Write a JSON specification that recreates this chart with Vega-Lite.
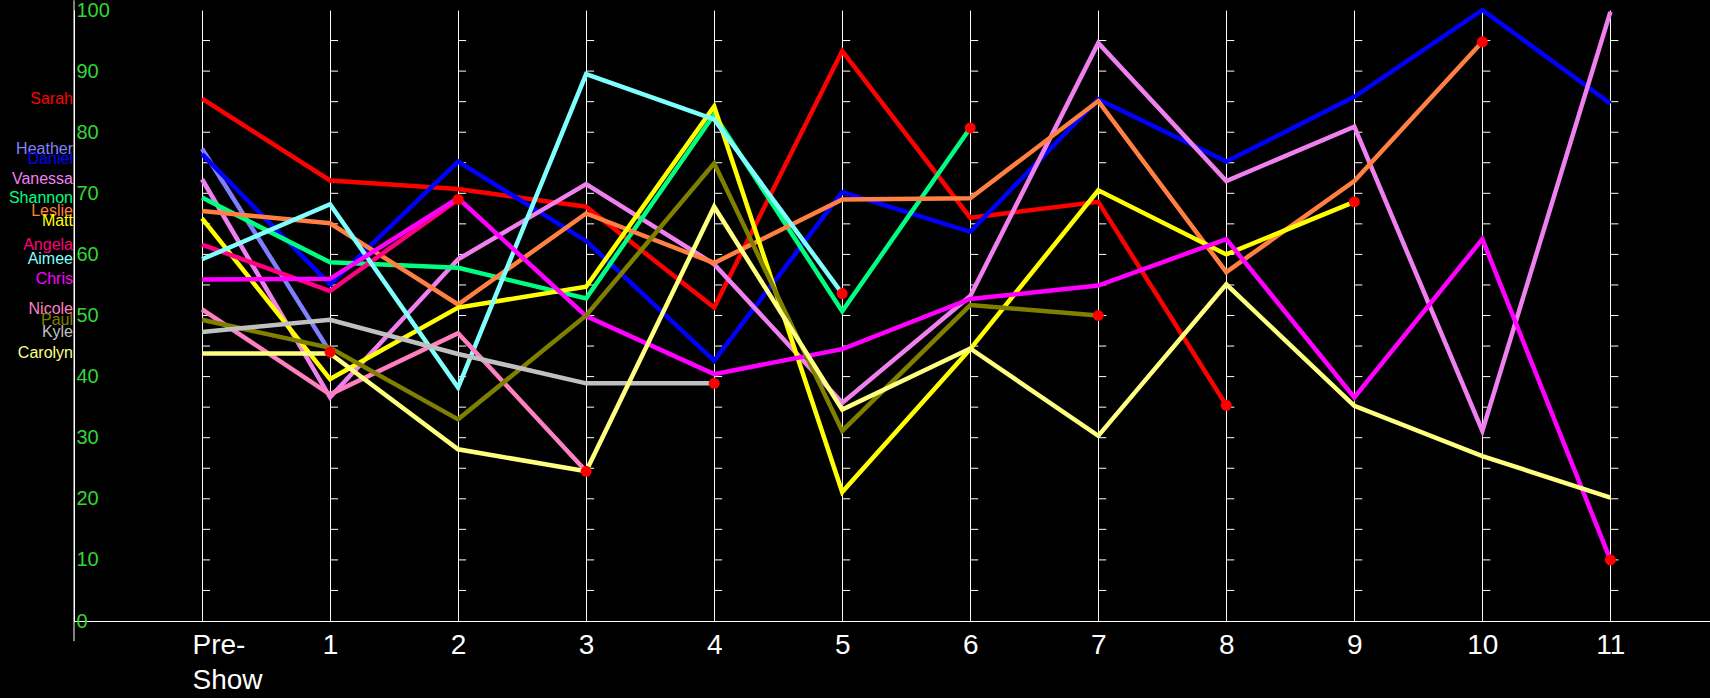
{
  "$schema": "https://vega.github.io/schema/vega-lite/v6.json",
  "autosize": {"type": "none"},
  "padding": {"left": 74, "top": 10, "right": 0, "bottom": 77},
  "width": 1636,
  "height": 611,
  "background": "black",
  "config": {"view": {"stroke": null}},
  "datasets": {
    "scores": [
      {"name": "Sarah", "ep": 0, "score": 85.5},
      {"name": "Sarah", "ep": 1, "score": 72.1},
      {"name": "Sarah", "ep": 2, "score": 70.7},
      {"name": "Sarah", "ep": 3, "score": 67.8},
      {"name": "Sarah", "ep": 4, "score": 51.3},
      {"name": "Sarah", "ep": 5, "score": 93.3},
      {"name": "Sarah", "ep": 6, "score": 66.0},
      {"name": "Sarah", "ep": 7, "score": 68.6},
      {"name": "Sarah", "ep": 8, "score": 35.3, "out": 1},
      {"name": "Heather", "ep": 0, "score": 77.3},
      {"name": "Heather", "ep": 1, "score": 44.0, "out": 1},
      {"name": "Daniel", "ep": 0, "score": 76.4},
      {"name": "Daniel", "ep": 1, "score": 55.1},
      {"name": "Daniel", "ep": 2, "score": 75.2},
      {"name": "Daniel", "ep": 3, "score": 62.2},
      {"name": "Daniel", "ep": 4, "score": 42.6},
      {"name": "Daniel", "ep": 5, "score": 70.2},
      {"name": "Daniel", "ep": 6, "score": 63.7},
      {"name": "Daniel", "ep": 7, "score": 85.4},
      {"name": "Daniel", "ep": 8, "score": 75.2},
      {"name": "Daniel", "ep": 9, "score": 85.8},
      {"name": "Daniel", "ep": 10, "score": 100},
      {"name": "Daniel", "ep": 11, "score": 84.7},
      {"name": "Vanessa", "ep": 0, "score": 72.3},
      {"name": "Vanessa", "ep": 1, "score": 36.6},
      {"name": "Vanessa", "ep": 2, "score": 59.2},
      {"name": "Vanessa", "ep": 3, "score": 71.5},
      {"name": "Vanessa", "ep": 4, "score": 58.4},
      {"name": "Vanessa", "ep": 5, "score": 35.7},
      {"name": "Vanessa", "ep": 6, "score": 53.2},
      {"name": "Vanessa", "ep": 7, "score": 94.6},
      {"name": "Vanessa", "ep": 8, "score": 72.0},
      {"name": "Vanessa", "ep": 9, "score": 80.9},
      {"name": "Vanessa", "ep": 10, "score": 31.1},
      {"name": "Vanessa", "ep": 11, "score": 99.7},
      {"name": "Shannon", "ep": 0, "score": 69.3},
      {"name": "Shannon", "ep": 1, "score": 58.7},
      {"name": "Shannon", "ep": 2, "score": 57.8},
      {"name": "Shannon", "ep": 3, "score": 52.8},
      {"name": "Shannon", "ep": 4, "score": 82.9},
      {"name": "Shannon", "ep": 5, "score": 50.7},
      {"name": "Shannon", "ep": 6, "score": 80.7, "out": 1},
      {"name": "Leslie", "ep": 0, "score": 67.1},
      {"name": "Leslie", "ep": 1, "score": 65.1},
      {"name": "Leslie", "ep": 2, "score": 51.8},
      {"name": "Leslie", "ep": 3, "score": 66.7},
      {"name": "Leslie", "ep": 4, "score": 58.6},
      {"name": "Leslie", "ep": 5, "score": 69.0},
      {"name": "Leslie", "ep": 6, "score": 69.2},
      {"name": "Leslie", "ep": 7, "score": 85.1},
      {"name": "Leslie", "ep": 8, "score": 57.1},
      {"name": "Leslie", "ep": 9, "score": 72.0},
      {"name": "Leslie", "ep": 10, "score": 94.8, "out": 1},
      {"name": "Matt", "ep": 0, "score": 65.9},
      {"name": "Matt", "ep": 1, "score": 39.6},
      {"name": "Matt", "ep": 2, "score": 51.3},
      {"name": "Matt", "ep": 3, "score": 54.7},
      {"name": "Matt", "ep": 4, "score": 84.2},
      {"name": "Matt", "ep": 5, "score": 21.1},
      {"name": "Matt", "ep": 6, "score": 44.5},
      {"name": "Matt", "ep": 7, "score": 70.5},
      {"name": "Matt", "ep": 8, "score": 60.0},
      {"name": "Matt", "ep": 9, "score": 68.6, "out": 1},
      {"name": "Angela", "ep": 0, "score": 61.6},
      {"name": "Angela", "ep": 1, "score": 54.0},
      {"name": "Angela", "ep": 2, "score": 69.0, "out": 1},
      {"name": "Aimee", "ep": 0, "score": 59.2},
      {"name": "Aimee", "ep": 1, "score": 68.2},
      {"name": "Aimee", "ep": 2, "score": 38.2},
      {"name": "Aimee", "ep": 3, "score": 89.5},
      {"name": "Aimee", "ep": 4, "score": 82.1},
      {"name": "Aimee", "ep": 5, "score": 53.6, "out": 1},
      {"name": "Chris", "ep": 0, "score": 55.9},
      {"name": "Chris", "ep": 1, "score": 56.0},
      {"name": "Chris", "ep": 2, "score": 69.2},
      {"name": "Chris", "ep": 3, "score": 49.9},
      {"name": "Chris", "ep": 4, "score": 40.4},
      {"name": "Chris", "ep": 5, "score": 44.5},
      {"name": "Chris", "ep": 6, "score": 52.7},
      {"name": "Chris", "ep": 7, "score": 54.9},
      {"name": "Chris", "ep": 8, "score": 62.5},
      {"name": "Chris", "ep": 9, "score": 36.6},
      {"name": "Chris", "ep": 10, "score": 62.5},
      {"name": "Chris", "ep": 11, "score": 10.0, "out": 1},
      {"name": "Nicole", "ep": 0, "score": 51.0},
      {"name": "Nicole", "ep": 1, "score": 37.1},
      {"name": "Nicole", "ep": 2, "score": 47.1},
      {"name": "Nicole", "ep": 3, "score": 24.5, "out": 1},
      {"name": "Paul", "ep": 0, "score": 49.3},
      {"name": "Paul", "ep": 1, "score": 44.7},
      {"name": "Paul", "ep": 2, "score": 33.0},
      {"name": "Paul", "ep": 3, "score": 50.0},
      {"name": "Paul", "ep": 4, "score": 74.9},
      {"name": "Paul", "ep": 5, "score": 31.1},
      {"name": "Paul", "ep": 6, "score": 51.7},
      {"name": "Paul", "ep": 7, "score": 50.0, "out": 1},
      {"name": "Kyle", "ep": 0, "score": 47.3},
      {"name": "Kyle", "ep": 1, "score": 49.3},
      {"name": "Kyle", "ep": 2, "score": 43.7},
      {"name": "Kyle", "ep": 3, "score": 38.9},
      {"name": "Kyle", "ep": 4, "score": 38.9, "out": 1},
      {"name": "Carolyn", "ep": 0, "score": 43.8},
      {"name": "Carolyn", "ep": 1, "score": 43.8},
      {"name": "Carolyn", "ep": 2, "score": 28.1},
      {"name": "Carolyn", "ep": 3, "score": 24.5},
      {"name": "Carolyn", "ep": 4, "score": 67.8},
      {"name": "Carolyn", "ep": 5, "score": 34.6},
      {"name": "Carolyn", "ep": 6, "score": 44.6},
      {"name": "Carolyn", "ep": 7, "score": 30.3},
      {"name": "Carolyn", "ep": 8, "score": 55.1},
      {"name": "Carolyn", "ep": 9, "score": 35.2},
      {"name": "Carolyn", "ep": 10, "score": 27.0},
      {"name": "Carolyn", "ep": 11, "score": 20.2}
    ],
    "epticks": [
      {"ep": 0, "v": [5,10,15,20,25,30,35,40,45,50,55,60,65,70,75,80,85,90,95]},
      {"ep": 1, "v": [5,10,15,20,25,30,35,40,45,50,55,60,65,70,75,80,85,90,95]},
      {"ep": 2, "v": [5,10,15,20,25,30,35,40,45,50,55,60,65,70,75,80,85,90,95]},
      {"ep": 3, "v": [5,10,15,20,25,30,35,40,45,50,55,60,65,70,75,80,85,90,95]},
      {"ep": 4, "v": [5,10,15,20,25,30,35,40,45,50,55,60,65,70,75,80,85,90,95]},
      {"ep": 5, "v": [5,10,15,20,25,30,35,40,45,50,55,60,65,70,75,80,85,90,95]},
      {"ep": 6, "v": [5,10,15,20,25,30,35,40,45,50,55,60,65,70,75,80,85,90,95]},
      {"ep": 7, "v": [5,10,15,20,25,30,35,40,45,50,55,60,65,70,75,80,85,90,95]},
      {"ep": 8, "v": [5,10,15,20,25,30,35,40,45,50,55,60,65,70,75,80,85,90,95]},
      {"ep": 9, "v": [5,10,15,20,25,30,35,40,45,50,55,60,65,70,75,80,85,90,95]},
      {"ep": 10, "v": [5,10,15,20,25,30,35,40,45,50,55,60,65,70,75,80,85,90,95]},
      {"ep": 11, "v": [5,10,15,20,25,30,35,40,45,50,55,60,65,70,75,80,85,90,95]}
    ]
  },
  "layer": [
    {
      "data": {"name": "epticks"},
      "transform": [{"flatten": ["v"]}],
      "mark": {"type": "tick", "orient": "horizontal", "size": 8, "thickness": 1, "color": "white", "opacity": 1, "xOffset": 4},
      "encoding": {
        "x": {
          "field": "ep", "type": "quantitative",
          "scale": {"domain": [-1, 11.778], "nice": false, "zero": false},
          "axis": {
            "values": [0,1,2,3,4,5,6,7,8,9,10,11],
            "title": null,
            "grid": true, "gridColor": "white", "gridWidth": 1, "gridOpacity": 1,
            "domainColor": "white", "domainWidth": 1,
            "ticks": false,
            "labelExpr": "datum.value == 0 ? ['Pre-', 'Show'] : format(datum.value, 'd')",
            "labelColor": "white", "labelFont": "Liberation Sans", "labelFontSize": 28,
            "labelLineHeight": 35, "labelPadding": 10, "labelBaseline": "top",
            "labelAlign": {"condition": {"test": "datum.value == 0", "value": "left"}, "value": "center"},
            "labelOffset": {"condition": {"test": "datum.value == 0", "value": -10}, "value": 0},
            "labelFlush": false, "labelOverlap": false, "labelBound": false
          }
        },
        "y": {
          "field": "v", "type": "quantitative",
          "scale": {"domain": [0, 100], "nice": false, "zero": false},
          "axis": {
            "values": [0,5,10,15,20,25,30,35,40,45,50,55,60,65,70,75,80,85,90,95,100],
            "title": null, "grid": false,
            "domainColor": "white", "domainWidth": 1,
            "ticks": true, "tickSize": -33, "tickWidth": 1,
            "tickColor": {"condition": {"test": "datum.value % 10 != 0", "value": "white"}, "value": "transparent"},
            "labelExpr": "datum.value % 10 == 0 ? datum.label : ''",
            "labelColor": "#33D633", "labelFont": "Liberation Sans", "labelFontSize": 20,
            "labelAlign": "left", "labelBaseline": "middle", "labelPadding": 31,
            "labelOverlap": false, "labelFlush": false, "labelBound": false
          }
        }
      }
    },
    {
      "data": {"values": [{}]},
      "mark": {"type": "rule", "color": "white", "strokeWidth": 1},
      "encoding": {
        "x": {"datum": -1, "type": "quantitative"},
        "y": {"datum": -3.3, "type": "quantitative"},
        "y2": {"datum": 101.6}
      }
    },
    {
      "data": {"name": "scores"},
      "mark": {"type": "line", "strokeWidth": 4.5},
      "encoding": {
        "x": {"field": "ep", "type": "quantitative"},
        "y": {"field": "score", "type": "quantitative"},
        "color": {
          "field": "name", "type": "nominal", "legend": null,
          "scale": {
            "domain": ["Sarah","Heather","Daniel","Vanessa","Shannon","Leslie","Matt","Angela","Aimee","Chris","Nicole","Paul","Kyle","Carolyn"],
            "range": ["#FF0000","#8080FF","#0000FF","#F080F0","#00FF80","#FF8040","#FFFF00","#FF0080","#80FFFF","#FF00FF","#FF80C0","#808000","#C0C0C0","#FFFF80"]
          }
        }
      }
    },
    {
      "data": {"name": "scores"},
      "transform": [{"filter": "datum.out == 1"}],
      "mark": {"type": "circle", "color": "#FF0000", "size": 120, "opacity": 1},
      "encoding": {
        "x": {"field": "ep", "type": "quantitative"},
        "y": {"field": "score", "type": "quantitative"}
      }
    },
    {
      "data": {"name": "scores"},
      "transform": [{"filter": "datum.ep == 0 && datum.name != 'Daniel' && datum.name != 'Matt'"}],
      "mark": {"type": "text", "align": "right", "baseline": "middle", "dx": -1, "fontSize": 16, "font": "Liberation Sans"},
      "encoding": {
        "x": {"datum": -1, "type": "quantitative"},
        "y": {"field": "score", "type": "quantitative"},
        "text": {"field": "name"},
        "color": {"field": "name", "type": "nominal", "legend": null}
      }
    },
    {
      "data": {"name": "scores"},
      "transform": [{"filter": "datum.ep == 0 && datum.name == 'Daniel'"}],
      "mark": {"type": "text", "align": "right", "baseline": "middle", "dx": -1, "dy": 5, "fontSize": 16, "font": "Liberation Sans"},
      "encoding": {
        "x": {"datum": -1, "type": "quantitative"},
        "y": {"field": "score", "type": "quantitative"},
        "text": {"field": "name"},
        "color": {"field": "name", "type": "nominal", "legend": null}
      }
    },
    {
      "data": {"name": "scores"},
      "transform": [{"filter": "datum.ep == 0 && datum.name == 'Matt'"}],
      "mark": {"type": "text", "align": "right", "baseline": "middle", "dx": -1, "dy": 3, "fontSize": 16, "font": "Liberation Sans"},
      "encoding": {
        "x": {"datum": -1, "type": "quantitative"},
        "y": {"field": "score", "type": "quantitative"},
        "text": {"field": "name"},
        "color": {"field": "name", "type": "nominal", "legend": null}
      }
    }
  ]
}
